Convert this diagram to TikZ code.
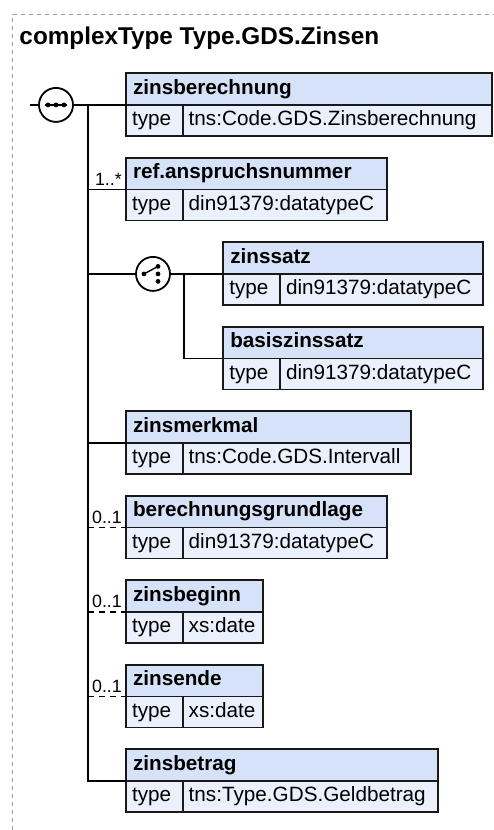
\documentclass[tikz,border=0pt]{standalone}
\usepackage{fontspec}
\setmainfont{Liberation Sans}
\usetikzlibrary{calc}
\definecolor{hdrblue}{HTML}{D6E2F7}
\definecolor{rowblue}{HTML}{EAF0FC}
\definecolor{framegray}{HTML}{A0A0A0}

\begin{document}
\begin{tikzpicture}[x=1pt,y=-1pt,
  elhead/.style={draw=black!90,fill=hdrblue,line width=1.8pt,anchor=north west,outer sep=0pt,
    minimum height=31.7pt,inner xsep=7pt,inner ysep=0pt,align=left,text height=15pt,text depth=4.5pt,
    font=\bfseries\fontsize{20.7}{24}\selectfont},
  elcell/.style={draw=black!90,fill=rowblue,line width=1.8pt,anchor=north west,outer sep=0pt,
    minimum height=31pt,inner xsep=6pt,inner ysep=0pt,align=left,text height=15pt,text depth=4.5pt,
    font=\fontsize{20.7}{24}\selectfont},
  conn/.style={line width=1.8pt},
  optline/.style={dash pattern=on 6pt off 5pt},
  compo/.style={circle,draw,fill=white,line width=1.8pt,minimum size=34pt,inner sep=0pt,outer sep=0pt},
  mult/.style={anchor=south east,inner sep=0pt,font=\fontsize{17.8}{20}\selectfont}]
  \useasboundingbox (0,0) rectangle (493,830);
  \draw[framegray,line width=1pt,dash pattern=on 4pt off 4pt] (12.7,830) -- (12.7,14) -- (493,14);
  \node[anchor=base west,inner sep=0pt,font=\bfseries\fontsize{24.3}{28}\selectfont] (title) at (19.3,44) {complexType Type.GDS.Zinsen};

  % elements
  \foreach \id/\x/\y/\w/\nm/\ty in {
      zber/126/73.2/366/zinsberechnung/tns:Code.GDS.Zinsberechnung,
      ref/126/157.7/260.7/ref.anspruchsnummer/din91379:datatypeC,
      zsatz/223.3/242.2/260/zinssatz/din91379:datatypeC,
      bzs/223.3/326.7/260/basiszinssatz/din91379:datatypeC,
      zmerk/126/411.2/285/zinsmerkmal/tns:Code.GDS.Intervall,
      berg/126/495.7/260.7/berechnungsgrundlage/din91379:datatypeC,
      zbeg/126/580.2/136.7/zinsbeginn/xs:date,
      zend/126/664.7/136.7/zinsende/xs:date,
      zbet/126/749.2/311.7/zinsbetrag/tns:Type.GDS.Geldbetrag}{
    \pgfmathsetmacro{\hw}{\w-14}
    \pgfmathsetmacro{\vw}{\w-56.7-12}
    \node[elhead,text width=\hw pt] (\id) at (\x,\y) {\nm};
    \node[elcell,text width=44.7pt,inner xsep=6pt] (\id-k) at (\id.south west) {type};
    \node[elcell,text width=\vw pt] (\id-t) at (\id-k.north east) {\ty};
  }

  % compositors
  \node[compo] (seq) at (56,104.9) {};
  \draw[line width=1.4pt] ($(seq)+(-11,0)$) -- ($(seq)+(11,0)$);
  \foreach \d in {-8,0,8}{
    \fill ($(seq)+(\d,0)$) circle (2.4pt);
  }
  \node[compo] (choice) at (153,273.9) {};
  \draw[line width=1.4pt] ($(choice)+(-9,0)$) -- ($(choice)+(5,-7.5)$);
  \foreach \dx/\dy in {-9/0,5/-7.5,5/0,5/7.5}{
    \fill ($(choice)+(\dx,\dy)$) circle (2.4pt);
  }

  % connectors
  \coordinate (start) at (30,104.9);
  \coordinate (trunk) at (88,0);
  \coordinate (fork) at (184,0);
  \draw[conn] (start) -- (seq.west);
  \draw[conn] (seq.east) -- (zber.south west);
  \draw[conn] (trunk |- zber.south west) |- (zbet.south west);
  \draw[conn] (trunk |- ref.south west) -- (ref.south west);
  \draw[conn] (trunk |- choice) -- (choice.west);
  \draw[conn] (choice.east) -- (zsatz.south west);
  \draw[conn] (fork |- zsatz.south west) |- (bzs.south west);
  \draw[conn] (trunk |- zmerk.south west) -- (zmerk.south west);
  \draw[conn,optline] (trunk |- berg.south west) -- (berg.south west);
  \draw[conn,optline] (trunk |- zbeg.south west) -- (zbeg.south west);
  \draw[conn,optline] (trunk |- zend.south west) -- (zend.south west);

  % multiplicities
  \node[mult] (ref-m) at ([xshift=-4pt,yshift=4pt]ref.south west) {1..*};
  \node[mult] (berg-m) at ([xshift=-4pt,yshift=4pt]berg.south west) {0..1};
  \node[mult] (zbeg-m) at ([xshift=-4pt,yshift=4pt]zbeg.south west) {0..1};
  \node[mult] (zend-m) at ([xshift=-4pt,yshift=4pt]zend.south west) {0..1};
\end{tikzpicture}
\end{document}
